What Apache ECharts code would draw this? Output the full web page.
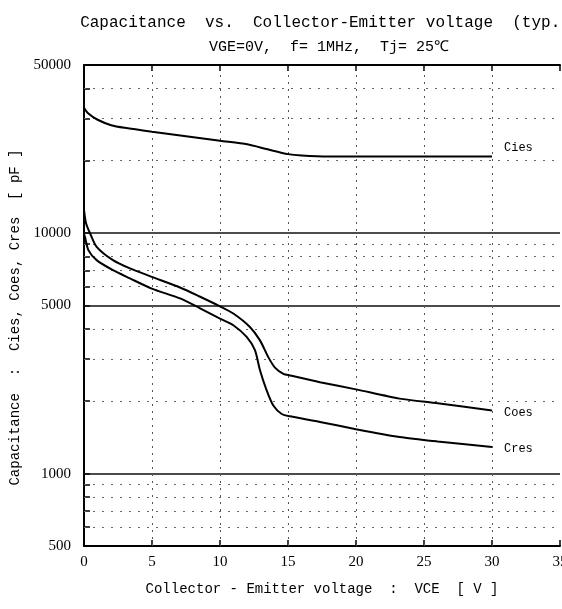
<!DOCTYPE html>
<html>
<head>
<meta charset="utf-8">
<script src="https://cdn.jsdelivr.net/npm/echarts@6/dist/echarts.min.js"></script>
<style>
  html, body { margin: 0; padding: 0; background: #fff; overflow: hidden; }
  #chart { width: 562px; height: 609px; }
</style>
</head>
<body>
<div id="chart"></div>
<script>
// Capacitance curves (pF) against collector-emitter voltage (V)
const ciesV = [0, 0.3, 1, 2, 3, 5, 7.5, 10, 12, 13.5, 15, 16, 18, 20, 25, 30];
const ciesC = [33200, 31500, 29600, 28100, 27400, 26400, 25300, 24200, 23400, 22300, 21300, 21000, 20800, 20800, 20800, 20800];

const coesV = [0, 0.15, 0.44, 0.93, 2.13, 3.38, 4.98, 7.06, 8.5, 10, 10.98, 12.2, 12.94, 13.55, 14.04, 14.66, 15.15, 17.35, 20, 23.2, 26, 30];
const coesC = [12500, 11000, 10000, 8770, 7720, 7130, 6580, 5940, 5450, 4960, 4630, 4070, 3580, 3050, 2760, 2600, 2560, 2400, 2240, 2050, 1960, 1830];

const cresV = [0, 0.07, 0.32, 0.93, 2.13, 3.38, 4.98, 7.06, 8.5, 10, 10.98, 11.96, 12.57, 12.94, 13.43, 13.92, 14.54, 15.15, 17.35, 20, 23.2, 26, 30];
const cresC = [9900, 9650, 8500, 7720, 7010, 6480, 5880, 5350, 4880, 4410, 4140, 3700, 3260, 2690, 2220, 1920, 1770, 1730, 1640, 1530, 1420, 1360, 1290];

// Axis ticks, labels and grid lines
const yLabels = [500, 1000, 5000, 10000, 50000];
const yMinorTicks = [600, 700, 800, 900, 1000, 2000, 3000, 4000, 5000, 6000, 7000, 8000, 9000, 10000, 20000, 30000, 40000];
const ySolidLines = [10000, 5000, 1000];
const yDottedLines = [40000, 30000, 20000, 9000, 8000, 7000, 6000, 4000, 3000, 2000, 900, 800, 700, 600];
const xGridLines = [5, 10, 15, 20, 25, 30];

const seriesNames = ['Cies', 'Coes', 'Cres'];

const pairs = (xs, ys) => xs.map((x, i) => [x, ys[i]]);

const monoFont = '"Liberation Mono", "DejaVu Sans Mono", monospace';
const numFont = '"Liberation Serif", "DejaVu Serif", serif';

function curve(name, xs, ys, labelOffset) {
  return {
    name: name,
    type: 'line',
    data: pairs(xs, ys),
    showSymbol: false,
    smooth: 0.25,
    lineStyle: { color: '#000', width: 2 },
    endLabel: {
      show: true,
      formatter: '{a}',
      color: '#000',
      fontFamily: monoFont,
      fontSize: 12,
      offset: labelOffset
    },
    z: 5
  };
}

const chart = echarts.init(document.getElementById('chart'), null, { renderer: 'canvas' });

chart.setOption({
  animation: false,
  backgroundColor: '#fff',
  title: [
    {
      text: 'Capacitance  vs.  Collector-Emitter voltage  (typ.)',
      left: 320, top: 10, textAlign: 'center',
      textStyle: { fontFamily: monoFont, fontSize: 16, fontWeight: 'normal', color: '#000' }
    },
    {
      text: 'VGE=0V,  f= 1MHz,  Tj= 25℃',
      left: 324, top: 35, textAlign: 'center',
      textStyle: { fontFamily: monoFont, fontSize: 15, fontWeight: 'normal', color: '#000' }
    }
  ],
  grid: { left: 84, right: 2, top: 65, bottom: 63, containLabel: false, outerBoundsMode: 'none' },
  xAxis: [
    {
      type: 'value', min: 0, max: 35, interval: 5,
      name: 'Collector - Emitter voltage  :  VCE  [ V ]',
      nameLocation: 'middle', nameGap: 36,
      nameTextStyle: { fontFamily: monoFont, fontSize: 14, color: '#000' },
      axisLine: { show: true, onZero: false, lineStyle: { color: '#000', width: 2 } },
      axisTick: { show: true, inside: true, length: 6, lineStyle: { color: '#000', width: 1.5 } },
      axisLabel: { fontFamily: numFont, fontSize: 15, color: '#000', margin: 9 },
      splitLine: { show: false }
    },
    {
      type: 'value', min: 0, max: 35, interval: 5, position: 'top',
      axisLine: { show: true, lineStyle: { color: '#000', width: 2 } },
      axisTick: { show: true, inside: true, length: 6, lineStyle: { color: '#000', width: 1.5 } },
      axisLabel: { show: false },
      splitLine: { show: false }
    }
  ],
  yAxis: {
    type: 'log', logBase: 10, min: 500, max: 50000,
    name: 'Capacitance  :  Cies, Coes, Cres  [ pF ]',
    nameLocation: 'middle', nameGap: 60, nameRotate: 90,
    nameTextStyle: { fontFamily: monoFont, fontSize: 14, color: '#000', padding: [0, 24, 0, 0] },
    axisLine: { show: true, onZero: false, lineStyle: { color: '#000', width: 2 } },
    axisTick: { show: true, inside: true, length: 6, customValues: yMinorTicks, lineStyle: { color: '#000', width: 1.5 } },
    axisLabel: {
      fontFamily: numFont, fontSize: 15, color: '#000', margin: 13,
      customValues: yLabels,
      formatter: v => String(Math.round(v))
    },
    splitLine: { show: false }
  },
  series: [
    {
      name: 'grid',
      type: 'line',
      data: [],
      silent: true,
      markLine: {
        silent: true,
        symbol: 'none',
        label: { show: false },
        data: [
          ...ySolidLines.map(v => ({ yAxis: v, lineStyle: { color: '#111', width: 1.5, type: 'solid' } })),
          ...yDottedLines.map(v => ({ yAxis: v, lineStyle: { color: '#666', width: 1, type: [2, 7] } })),
          ...xGridLines.map(v => ({ xAxis: v, lineStyle: { color: '#555', width: 1, type: [2, 5] } }))
        ]
      },
      z: 1
    },
    curve(seriesNames[0], ciesV, ciesC, [4, -9]),
    curve(seriesNames[1], coesV, coesC, [4, 2]),
    curve(seriesNames[2], cresV, cresC, [4, 2])
  ]
});
</script>
</body>
</html>
